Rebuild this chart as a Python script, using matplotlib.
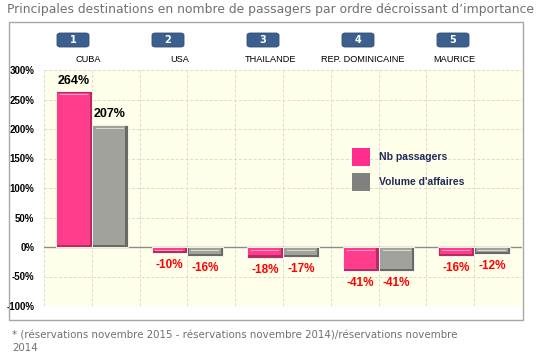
import matplotlib
matplotlib.use("Agg")
import matplotlib.pyplot as plt
from matplotlib.patches import Rectangle, FancyBboxPatch
import numpy as np

categories = ["CUBA", "USA", "THAILANDE", "REP. DOMINICAINE", "MAURICE"]
ranks = ["1", "2", "3", "4", "5"]
nb_passagers = [264, -10, -18, -41, -16]
volume_affaires = [207, -16, -17, -41, -12]
series_names = ["Nb passagers", "Volume d'affaires"]
yticks = [-100, -50, 0, 50, 100, 150, 200, 250, 300]

W, H = 547, 354
fig = plt.figure(figsize=(W / 100, H / 100), dpi=100)

def fx(px):
    return px / W

def fy(py):
    return 1 - py / H

# outer box
fig.patches.append(Rectangle((fx(9), fy(320)), fx(523) - fx(9), fy(22) - fy(320),
                             transform=fig.transFigure, fill=False, edgecolor="#A8A8A8", lw=1.0))

ax = fig.add_axes([fx(44), fy(306), fx(522) - fx(44), fy(70) - fy(306)])
ax.set_facecolor("#FFFFEA")
ax.set_xlim(-0.5, len(categories) - 0.5)
ax.set_ylim(-100, 300)
ax.set_yticks(yticks)
ax.set_yticklabels([f"{v}%" for v in yticks], fontsize=7, fontweight="bold",
                   family="Liberation Sans")
ax.tick_params(axis="y", length=0, pad=7)
ax.set_xticks([])
for s in ax.spines.values():
    s.set_visible(False)
ax.grid(False)
for v in yticks:
    if v != 0:
        ax.axhline(v, color="#DADAD0", lw=0.7, ls=(0, (3, 2)), zorder=0)
for xv in np.arange(-0.5, len(categories), 0.5):
    ax.axvline(xv, color="#DADAD0", lw=0.7, ls=(0, (3, 2)), zorder=0)
ax.axhline(0, color="#8C8C8C", lw=1.0, zorder=1)

bw = 0.375
ppx = 96.0  # px per category
ppy = 59.0 / 100  # px per percent
ix = 2.2 / ppx
iy = 2.2 / ppy

def bevel_bar(x, v, main, dark, light):
    x0 = x - bw / 2
    ax.add_patch(Rectangle((x0, 0), bw, v, facecolor=dark, edgecolor="#F4F4EC", lw=0.7, zorder=3))
    top = max(v, 0)
    bot = min(v, 0)
    h = abs(v)
    if h > 2 * iy + 0.5:
        ax.add_patch(Rectangle((x0 + ix * 0.6, bot + iy), bw - 1.6 * ix, h - 1.6 * iy,
                               facecolor=main, edgecolor="none", zorder=4))
        hy = top - iy * 1.5
        ax.add_patch(Rectangle((x0 + ix * 1.8, hy - 0.6 / ppy), bw - 3.6 * ix, 1.2 / ppy,
                               facecolor=light, edgecolor="none", zorder=5))

xs = np.arange(len(categories))
for i in xs:
    bevel_bar(i - bw / 2, nb_passagers[i], "#FF3D8C", "#B82A62", "#FF9CC4")
    bevel_bar(i + bw / 2, volume_affaires[i], "#A2A29C", "#696965", "#DADAD4")

for i in xs:
    for off, vals in ((-bw / 2, nb_passagers), (bw / 2, volume_affaires)):
        v = vals[i]
        if v > 0:
            ax.text(i + off, v + 8, f"{v}%", ha="center", va="bottom", fontsize=9,
                    fontweight="bold", family="Liberation Sans", color="black")
        else:
            ax.text(i + off, v - 10, f"{v}%", ha="center", va="top", fontsize=8.5,
                    fontweight="bold", family="Liberation Sans", color="#FF0000")

# legend
leg_colors = ["#FF2D8E", "#808080"]
for k, (name, c) in enumerate(zip(series_names, leg_colors)):
    y0 = 148 + 25 * k
    fig.patches.append(Rectangle((fx(352), fy(y0 + 18)), fx(18), fy(0) - fy(18),
                                 transform=fig.transFigure, facecolor=c, edgecolor="none"))
    fig.text(fx(379), fy(y0 + 9), name, ha="left", va="center", fontsize=7.5,
             fontweight="bold", color="#1F2A5A", family="Liberation Sans")

# badges and category labels
for i, (r, c) in enumerate(zip(ranks, categories)):
    bx = 73 + 95 * i
    fig.patches.append(FancyBboxPatch((fx(bx - 16), fy(47)), fx(32), fy(0) - fy(14),
                                      boxstyle="round,pad=0,rounding_size=0.006",
                                      transform=fig.transFigure, facecolor="#3C5F8E",
                                      edgecolor="#2E4C74", lw=0.6))
    fig.text(fx(bx), fy(40), r, ha="center", va="center", fontsize=7, color="white",
             fontweight="bold", family="DejaVu Sans")
    lx = 88 + 91.5 * i
    fig.text(fx(lx), fy(59), c, ha="center", va="center", fontsize=6.6,
             color="black", family="Liberation Sans")

fig.text(fx(7), fy(10), "Principales destinations en nombre de passagers par ordre décroissant d\u2019importance",
         ha="left", va="center", fontsize=8.9, color="#707070", family="DejaVu Sans")
fig.text(fx(12), fy(336), "* (réservations novembre 2015 - réservations novembre 2014)/réservations novembre",
         ha="left", va="center", fontsize=7.4, color="#707070", family="DejaVu Sans")
fig.text(fx(12), fy(348), "2014", ha="left", va="center", fontsize=7.4, color="#707070",
         family="DejaVu Sans")

fig.savefig("out.png", dpi=100)
